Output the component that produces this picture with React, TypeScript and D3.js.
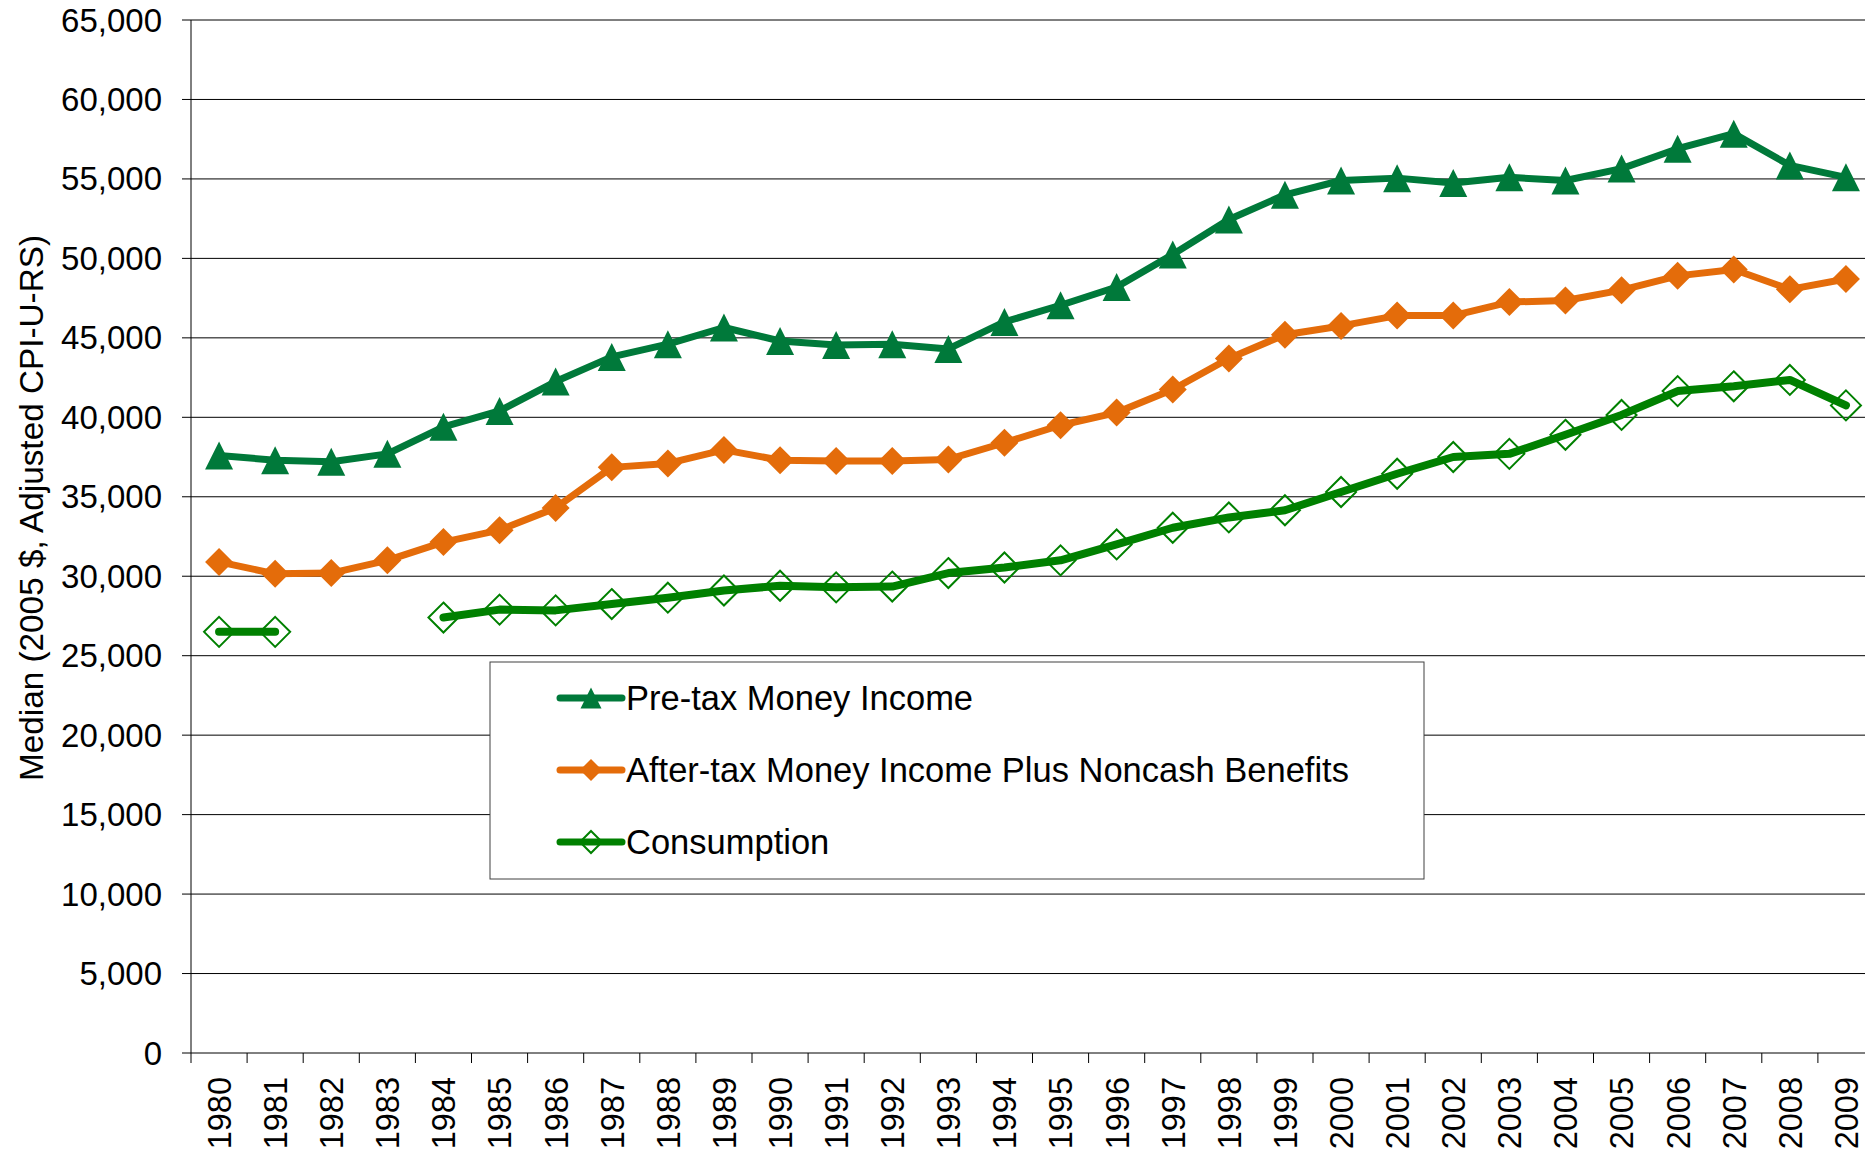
import React from 'react';
import * as d3 from 'd3';

const years = d3.range(1980, 2010).map(String);

const preTax = [
  37600, 37300, 37200, 37700, 39400, 40400, 42250, 43800, 44600, 45650,
  44800, 44550, 44600, 44300, 46000, 47050, 48200, 50250, 52450, 54000,
  54900, 55050, 54750, 55100, 54900, 55650, 56900, 57850, 55850, 55100,
];

const afterTax = [
  30900, 30150, 30200, 31000, 32150, 32900, 34300, 36850, 37100, 37950,
  37300, 37250, 37250, 37350, 38400, 39500, 40300, 41750, 43700, 45200,
  45750, 46400, 46400, 47250, 47350, 48000, 48900, 49300, 48050, 48700,
];

// null = no data for that year
const consumption: (number | null)[] = [
  26500, 26500, null, null, 27400, 27900, 27850, 28250, 28650, 29100,
  29400, 29300, 29350, 30200, 30550, 31000, 32000, 33050, 33700, 34150,
  35300, 36450, 37500, 37700, 38900, 40150, 41650, 41950, 42350, 40750,
];

const yTicks = d3.range(0, 65001, 5000);

const seriesNames = [
  'Pre-tax Money Income',
  'After-tax Money Income Plus Noncash Benefits',
  'Consumption',
];

const W = 1865;
const H = 1161;
const FONT = '"Liberation Sans", Arial, sans-serif';
const C_PRE = '#00793A';
const C_AFTER = '#E46C0A';
const C_CONS = '#008000';

// marker shapes, centred on their bounding box
const triPath = (s: number) => `M0,${-s / 2}L${s / 2},${s / 2}L${-s / 2},${s / 2}Z`;
const diamond = (s: number) => `M0,${-s / 2}L${s / 2},0L0,${s / 2}L${-s / 2},0Z`;

export default function App() {
  const left = 191;
  const top = 20;
  const bottom = 1053;
  const right = 1874; // plot runs slightly past the picture edge

  const x = d3.scaleBand<string>().domain(years).range([left, right]);
  const y = d3.scaleLinear().domain([0, 65000]).range([bottom, top]);
  const cx = (yr: string) => (x(yr) as number) + x.bandwidth() / 2;

  const line = d3
    .line<number | null>()
    .defined((d) => d != null)
    .x((_, i) => cx(years[i]))
    .y((d) => y(d as number));

  const fmt = d3.format(',');
  const legendRows = [698, 770, 842];

  return (
    <svg
      width={W}
      height={H}
      style={{ position: 'absolute', left: 0, top: 0, background: '#fff' }}
      fontFamily={FONT}
    >
      <rect width={W} height={H} fill="#fff" />

      {/* gridlines + y ticks */}
      {yTicks.map((t) => (
        <g key={t}>
          <line x1={left - 9} x2={right} y1={y(t)} y2={y(t)} stroke="#000" strokeWidth={1} />
          <text x={162} y={y(t)} dy="0.35em" textAnchor="end" fontSize={33} fill="#000">
            {fmt(t)}
          </text>
        </g>
      ))}

      {/* y axis */}
      <line x1={left} x2={left} y1={top} y2={bottom + 10} stroke="#000" strokeWidth={1} />

      {/* x ticks and labels */}
      {years.map((yr) => (
        <g key={yr}>
          <line
            x1={(x(yr) as number) + x.bandwidth()}
            x2={(x(yr) as number) + x.bandwidth()}
            y1={bottom}
            y2={bottom + 10}
            stroke="#000"
          />
          <text
            transform={`translate(${cx(yr) + 0.5},1077) rotate(-90)`}
            dy="0.35em"
            textAnchor="end"
            fontSize={32.5}
            fill="#000"
          >
            {yr}
          </text>
        </g>
      ))}

      {/* y title */}
      <text
        transform="translate(43,508) rotate(-90)"
        textAnchor="middle"
        fontSize={33.3}
        fill="#000"
      >
        Median (2005 $, Adjusted CPI-U-RS)
      </text>

      {/* Pre-tax */}
      <path d={line(preTax) || ''} fill="none" stroke={C_PRE} strokeWidth={7} strokeLinejoin="round" />
      {preTax.map((v, i) => (
        <path key={i} d={triPath(28)} transform={`translate(${cx(years[i])},${y(v)})`} fill={C_PRE} />
      ))}

      {/* After-tax */}
      <path d={line(afterTax) || ''} fill="none" stroke={C_AFTER} strokeWidth={7} strokeLinejoin="round" />
      {afterTax.map((v, i) => (
        <path key={i} d={diamond(28)} transform={`translate(${cx(years[i])},${y(v)})`} fill={C_AFTER} />
      ))}

      {/* Consumption */}
      {consumption.map((v, i) =>
        v == null ? null : (
          <path
            key={i}
            d={diamond(30)}
            transform={`translate(${cx(years[i])},${y(v)})`}
            fill="none"
            stroke={C_CONS}
            strokeWidth={2}
          />
        )
      )}
      <path
        d={line(consumption) || ''}
        fill="none"
        stroke={C_CONS}
        strokeWidth={8}
        strokeLinejoin="round"
        strokeLinecap="round"
      />

      {/* legend */}
      <rect x={490} y={662} width={934} height={217} fill="#fff" stroke="#404040" strokeWidth={1} />
      {seriesNames.map((name, i) => {
        const ly = legendRows[i];
        const col = i === 0 ? C_PRE : i === 1 ? C_AFTER : C_CONS;
        return (
          <g key={name}>
            <line x1={560} x2={622} y1={ly} y2={ly} stroke={col} strokeWidth={7} strokeLinecap="round" />
            {i === 0 && <path d={triPath(21)} transform={`translate(591,${ly})`} fill={col} />}
            {i === 1 && <path d={diamond(22)} transform={`translate(591,${ly})`} fill={col} />}
            {i === 2 && (
              <path d={diamond(22)} transform={`translate(591,${ly})`} fill="none" stroke={col} strokeWidth={2} />
            )}
            <text x={626} y={ly} dy="0.35em" fontSize={34.5} fill="#000">
              {name}
            </text>
          </g>
        );
      })}
    </svg>
  );
}
